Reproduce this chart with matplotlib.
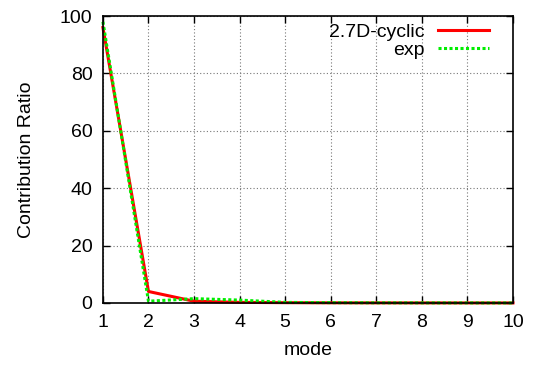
import matplotlib
matplotlib.use('Agg')
import matplotlib.pyplot as plt
import numpy as np

modes = [1, 2, 3, 4, 5, 6, 7, 8, 9, 10]
cyclic = [96.0, 4.0, 0.6, 0.2, 0.1, 0.05, 0.03, 0.02, 0.01, 0.01]
exp = [98.0, 0.6, 1.5, 1.0, 0.2, 0.1, 0.05, 0.03, 0.02, 0.01]

plt.rcParams['font.family'] = ['Liberation Sans', 'DejaVu Sans']
plt.rcParams['font.size'] = 14

fig = plt.figure(figsize=(5.36, 3.65), dpi=100)
ax = fig.add_axes([0.192, 0.170, 0.765, 0.786])

ax.plot(modes, cyclic, color='#ff0000', lw=2.2, label='2.7D-cyclic', clip_on=False)
ax.plot(modes, exp, color='#00ee00', lw=2.2, linestyle=(0, (1, 0.8)), label='exp', clip_on=False)

ax.set_xlim(1, 10)
ax.set_ylim(0, 100)
ax.set_xticks(modes)
ax.set_yticks([0, 20, 40, 60, 80, 100])
ax.grid(True, color='#777777', linestyle=(0, (1, 2)), lw=0.8)
ax.tick_params(axis='x', direction='in', top=True, length=5, width=1, pad=8)
ax.tick_params(axis='y', direction='in', right=True, length=5, width=1, pad=7.5)
for s in ax.spines.values():
    s.set_linewidth(1.2)

ax.set_xlabel('mode', labelpad=8)
ax.set_ylabel('Contribution Ratio', labelpad=18)

leg = ax.legend(loc='upper right', frameon=False, markerfirst=False,
                handlelength=2.6, borderaxespad=0.0, borderpad=0.3,
                labelspacing=0.0, handletextpad=0.7,
                bbox_to_anchor=(0.955, 0.995))
for t in leg.get_texts():
    t.set_ha('right')

fig.savefig('out.png', dpi=100)
